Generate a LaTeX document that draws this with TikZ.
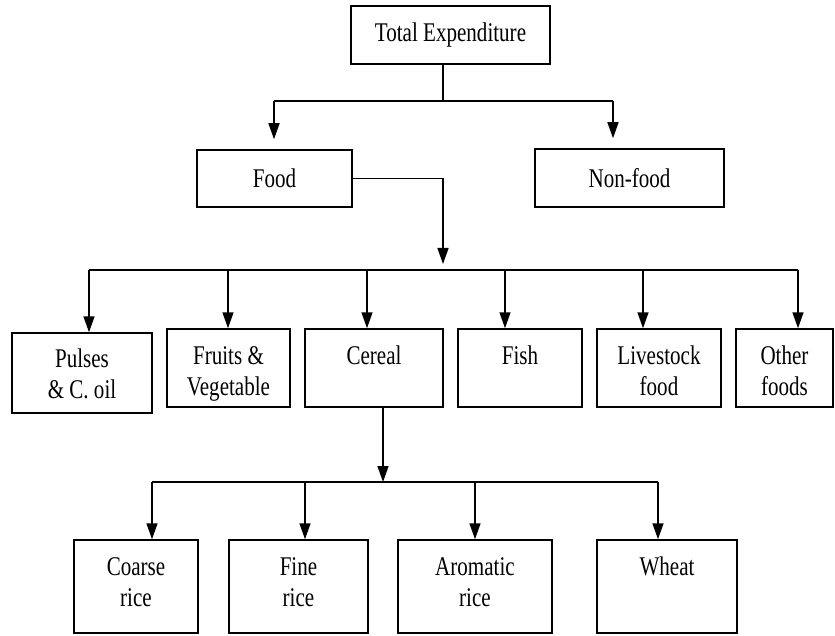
\documentclass[tikz,border=0pt]{standalone}
\usepackage{fontspec}
\setmainfont{Liberation Serif}[FakeStretch=0.78]
\usetikzlibrary{arrows.meta}
\newcommand{\mytwo}[3]{\rule{0pt}{#1}#2\\#3\strut}
\begin{document}
\begin{tikzpicture}[x=1pt,y=-1pt,
  box/.style={draw,line width=1.5pt,inner sep=0pt,align=center,
    font=\fontsize{27}{31}\selectfont},
  conn/.style={line width=1.5pt},
  arr/.style={line width=1.5pt,-{Triangle[width=11pt,length=16pt]}}]
\useasboundingbox (0,0) rectangle (835,636);
% level 0
\node[box,minimum width=199pt,minimum height=58pt] (total) at (450.5,35) {Total Expenditure};
% level 1
\node[box,minimum width=155pt,minimum height=57pt] (food) at (274.5,178.5) {Food};
\node[box,minimum width=189pt,minimum height=58pt] (nonfood) at (629.5,178) {Non-food};
% level 2
\node[box,minimum width=140pt,minimum height=80pt] (pulses) at (82,373) {\mytwo{30pt}{Pulses}{\& C. oil}};
\node[box,minimum width=123pt,minimum height=78pt] (fruits) at (228.5,368) {\mytwo{34pt}{Fruits \&}{Vegetable}};
\node[box,minimum width=138pt,minimum height=78pt] (cereal) at (374,368) {\mytwo{34pt}{Cereal}{}};
\node[box,minimum width=124pt,minimum height=78pt] (fish) at (520,368) {\mytwo{34pt}{Fish}{}};
\node[box,minimum width=124pt,minimum height=78pt] (livestock) at (659,368) {\mytwo{34pt}{Livestock}{food}};
\node[box,minimum width=97pt,minimum height=78pt] (other) at (784.5,368) {\mytwo{34pt}{Other}{foods}};
% level 3
\node[box,minimum width=124pt,minimum height=93pt] (coarse) at (136,586.5) {\mytwo{0pt}{Coarse}{rice}};
\node[box,minimum width=139pt,minimum height=93pt] (fine) at (298.5,586.5) {\mytwo{0pt}{Fine}{rice}};
\node[box,minimum width=154pt,minimum height=93pt] (aromatic) at (475,586.5) {\mytwo{0pt}{Aromatic}{rice}};
\node[box,minimum width=140pt,minimum height=93pt] (wheat) at (667,586.5) {\mytwo{0pt}{Wheat}{}};
% junction coordinates
\coordinate (j1) at (443,101);
\coordinate (fL) at (274,101);
\coordinate (fR) at (613,101);
\coordinate (j2) at (443,270);
\coordinate (a1) at (89,270);
\coordinate (a2) at (228,270);
\coordinate (a3) at (367,270);
\coordinate (a4) at (505,270);
\coordinate (a5) at (643,270);
\coordinate (a6) at (798,270);
\coordinate (j3) at (383,482);
\coordinate (b1) at (152,482);
\coordinate (b2) at (305,482);
\coordinate (b3) at (475,482);
\coordinate (b4) at (658,482);
% connectors level 0 -> 1
\draw[conn] (total.south -| j1) -- (j1);
\draw[conn] (fL) -- (fR);
\draw[arr,shorten >=10pt] (fL) -- (fL |- food.north);
\draw[arr,shorten >=10pt] (fR) -- (fR |- nonfood.north);
% food -> level 2
\draw[arr,shorten >=6pt] (food.east) -| (j2);
\draw[conn] (a1) -- (a6);
\draw[arr] (a1) -- (a1 |- pulses.north);
\draw[arr] (a2) -- (a2 |- fruits.north);
\draw[arr] (a3) -- (a3 |- cereal.north);
\draw[arr] (a4) -- (a4 |- fish.north);
\draw[arr] (a5) -- (a5 |- livestock.north);
\draw[arr] (a6) -- (a6 |- other.north);
% cereal -> level 3
\draw[arr] (cereal.south -| j3) -- (j3);
\draw[conn] (b1) -- (b4);
\draw[arr] (b1) -- (b1 |- coarse.north);
\draw[arr] (b2) -- (b2 |- fine.north);
\draw[arr] (b3) -- (b3 |- aromatic.north);
\draw[arr] (b4) -- (b4 |- wheat.north);
\end{tikzpicture}
\end{document}
